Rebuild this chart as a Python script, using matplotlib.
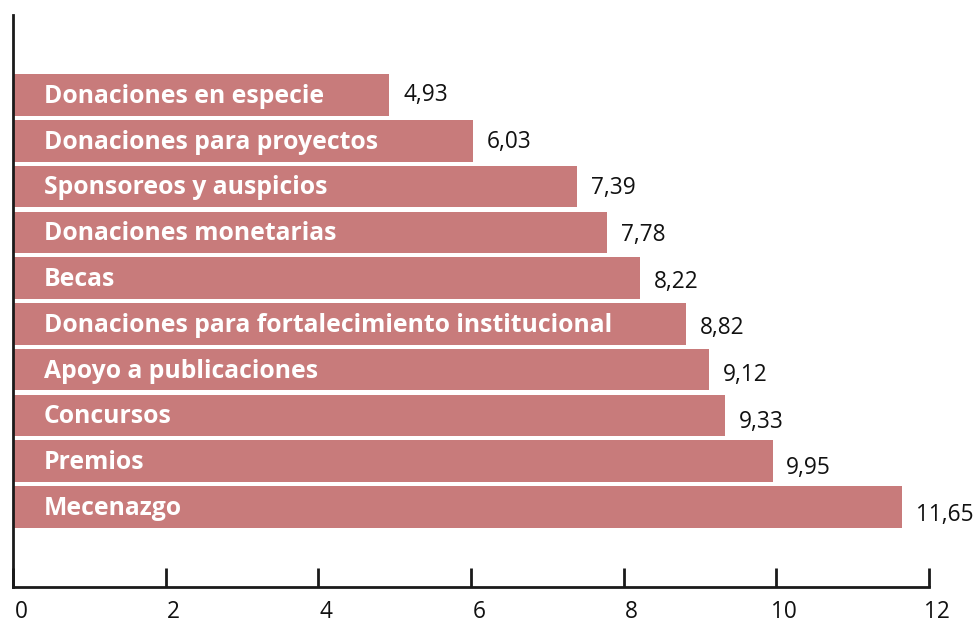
import matplotlib
matplotlib.use("Agg")
import matplotlib.pyplot as plt
import matplotlib.transforms as mtransforms

plt.rcParams['font.family'] = ['Open Sans', 'DejaVu Sans']

categorias = ["Donaciones en especie", "Donaciones para proyectos", "Sponsoreos y auspicios",
              "Donaciones monetarias", "Becas", "Donaciones para fortalecimiento institucional",
              "Apoyo a publicaciones", "Concursos", "Premios", "Mecenazgo"]
valores = [4.93, 6.03, 7.39, 7.78, 8.22, 8.82, 9.12, 9.33, 9.95, 11.65]
ticks_x = [0, 2, 4, 6, 8, 10, 12]

color_barra = "#C87B7B"

fig = plt.figure(figsize=(9.74, 6.26), dpi=100)
ax = fig.add_axes([13 / 974, 39 / 626, 916 / 974, 572 / 626])

pos = list(range(len(categorias)))
ax.barh(pos, valores, height=0.91, color=color_barra)

for i, (cat, v) in enumerate(zip(categorias, valores)):
    ax.text(0.4, i + 0.03, cat, color="white", fontweight="bold", fontsize=17.8,
            va="center", ha="left")
    # las etiquetas de valor bajan un poco mas en cada fila
    ax.text(v + 0.18, i + 0.02 * i, f"{v:.2f}".replace(".", ","), color="#111111",
            fontsize=16.3, va="center", ha="left")

ax.set_xlim(0, 12)
ax.set_ylim(10.75, -1.75)
ax.set_yticks([])
ax.set_xticks(ticks_x)
ax.set_xticklabels([str(t) for t in ticks_x], fontsize=16.3, color="#111111")
ax.tick_params(axis="x", direction="in", length=14, width=2, pad=9, color="#1a1a1a")
off = mtransforms.ScaledTranslation(8 / 100, 0, fig.dpi_scale_trans)
for lab in ax.get_xticklabels():
    lab.set_transform(lab.get_transform() + off)

for s in ["top", "right"]:
    ax.spines[s].set_visible(False)
ax.spines["left"].set_linewidth(2)
ax.spines["bottom"].set_linewidth(2)
ax.spines["left"].set_color("#1a1a1a")
ax.spines["bottom"].set_color("#1a1a1a")

fig.savefig("out.png", dpi=100)
